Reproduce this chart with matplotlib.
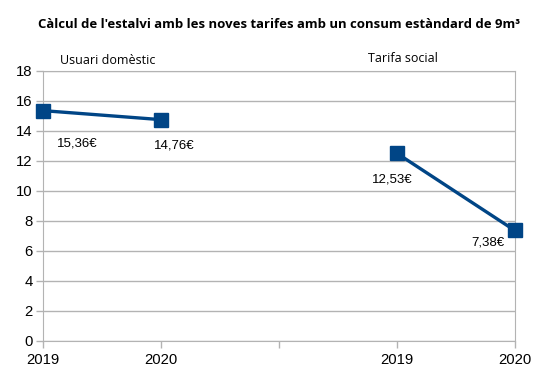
import matplotlib.pyplot as plt

# data
tickLabels = ["2019", "2020", "", "2019", "2020"]
domesticX = [0, 1]
domesticVals = [15.36, 14.76]
socialX = [3, 4]
socialVals = [12.53, 7.38]
groupNames = ["Usuari domèstic", "Tarifa social"]

blue = "#004586"
gray = "#b3b3b3"

fig = plt.figure(figsize=(5.51, 3.92), dpi=100)
ax = fig.add_axes([42.5 / 551, 51 / 392, 472 / 551, 270 / 392])

ax.plot(domesticX, domesticVals, color=blue, lw=2.4, marker="s", ms=9.5, clip_on=False, zorder=3)
ax.plot(socialX, socialVals, color=blue, lw=2.4, marker="s", ms=9.5, clip_on=False, zorder=3)

# data labels (offsets in points)
offsets = [(25, -24), (10, -19), (-3, -19), (-19, -9)]
allX = domesticX + socialX
allVals = domesticVals + socialVals
for x, v, off in zip(allX, allVals, offsets):
    lbl = ("%.2f" % v).replace(".", ",") + "€"
    ax.annotate(lbl, (x, v), xytext=off, textcoords="offset points",
                ha="center", va="center", fontsize=9.5, family="Liberation Sans")

ax.set_xlim(0, 4)
ax.set_ylim(0, 18)
ax.set_yticks(range(0, 19, 2))
ax.set_xticks(range(5))
ax.set_xticklabels(tickLabels)
ax.grid(axis="y", color=gray, lw=1)
ax.set_axisbelow(True)
for s in ax.spines.values():
    s.set_color(gray)
ax.tick_params(colors=gray, labelcolor="black", length=5, width=1, labelsize=10.7)
ax.tick_params(axis="y", pad=2)
for t in ax.get_xticklabels() + ax.get_yticklabels():
    t.set_family("Liberation Sans")

fig.text(279 / 551, 1 - 25 / 392, "Càlcul de l'estalvi amb les noves tarifes amb un consum estàndard de 9m³",
         ha="center", va="center", fontsize=9.45, fontweight="bold", family="Open Sans")
fig.text(107.5 / 551, 1 - 60 / 392, groupNames[0], ha="center", va="center", fontsize=9, family="Open Sans")
fig.text(402.5 / 551, 1 - 58 / 392, groupNames[1], ha="center", va="center", fontsize=9, family="Open Sans")

fig.savefig("out.png", dpi=100)
